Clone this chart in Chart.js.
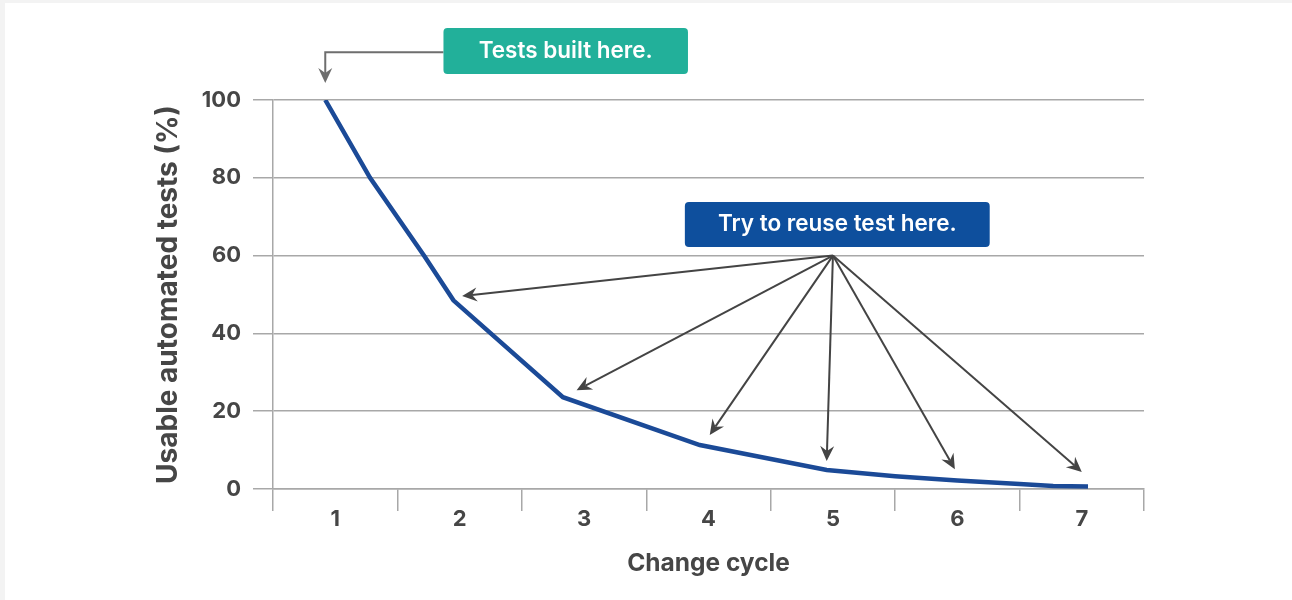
<!DOCTYPE html>
<html>
<head>
<meta charset="utf-8">
<script src="https://cdn.jsdelivr.net/npm/chart.js@4"></script>
<style>
    html, body { margin: 0; padding: 0; background: #f3f3f3; }
    #wrap { position: absolute; left: 5px; top: 3px; width: 1287px; height: 597px; background: #fff; }
</style>
</head>
<body>
<div id="wrap"><canvas id="chart"></canvas></div>
<script>
// dados
const cycleLabels = ['1', '2', '3', '4', '5', '6', '7'];
const yTicks = [0, 20, 40, 60, 80, 100];
const cycleX = [0.92, 1.28, 1.72, 1.95, 2.83, 3.93, 4.95, 5.5, 6.0, 6.5, 6.77, 7.05];
const usablePct = [100, 80, 59.7, 48.5, 23.6, 11.3, 4.9, 3.3, 2.2, 1.3, 0.8, 0.65];

// anotações (em unidades dos eixos)
const builtText = 'Tests built here.';
const builtTip = [0.92, 104.4];
const builtElbowY = 112.3;
const builtBox = [1.87, 3.835, 118.5, 106.7];   // x0, x1, yTop, yBottom
const reuseText = 'Try to reuse test here.';
const reuseFrom = [5.0, 60];
const reuseToX = [2.02, 2.94, 4.01, 4.95, 5.98, 7.0];
const reuseToY = [49.6, 25.4, 13.9, 7.2, 5.1, 4.4];
const reuseBox = [3.81, 6.26, 73.8, 62.2];

const gridGray = '#a8a8a8';
const textGray = '#464646';
const fontFam = 'Inter, Roboto, sans-serif';

// limites das categorias (0.5, 1.5, ...)
const boundaries = [];
for (let i = 0; i <= cycleLabels.length; i++) boundaries.push(i + 0.5);

function arrowHead(ctx, x0, y0, x1, y1) {
    const a = Math.atan2(y1 - y0, x1 - x0);
    ctx.save();
    ctx.translate(x1, y1);
    ctx.rotate(a);
    ctx.beginPath();
    ctx.moveTo(0, 0);
    ctx.lineTo(-15, -7);
    ctx.lineTo(-10, 0);
    ctx.lineTo(-15, 7);
    ctx.closePath();
    ctx.fill();
    ctx.restore();
}

function arrow(ctx, x0, y0, x1, y1) {
    const a = Math.atan2(y1 - y0, x1 - x0);
    ctx.beginPath();
    ctx.moveTo(x0, y0);
    ctx.lineTo(x1 - Math.cos(a) * 10, y1 - Math.sin(a) * 10);
    ctx.stroke();
    arrowHead(ctx, x0, y0, x1, y1);
}

function label(ctx, box, text, fill, x, y) {
    const left = x(box[0]), right = x(box[1]), top = y(box[2]), bottom = y(box[3]);
    ctx.fillStyle = fill;
    ctx.beginPath();
    ctx.roundRect(left, top, right - left, bottom - top, 4);
    ctx.fill();
    ctx.fillStyle = '#ffffff';
    ctx.font = '600 22.5px ' + fontFam;
    ctx.textAlign = 'center';
    ctx.textBaseline = 'middle';
    ctx.fillText(text, (left + right) / 2, (top + bottom) / 2);
}

const annotate = {
    id: 'annotate',
    afterDraw(chart) {
        const ctx = chart.ctx;
        const px = v => chart.scales.x.getPixelForValue(v);
        const py = v => chart.scales.y.getPixelForValue(v);
        ctx.save();

        // seta "Tests built here."
        ctx.strokeStyle = '#6e6e6e';
        ctx.fillStyle = '#6e6e6e';
        ctx.lineWidth = 2;
        ctx.beginPath();
        ctx.moveTo(px(builtBox[0]), py(builtElbowY));
        ctx.lineTo(px(builtTip[0]), py(builtElbowY));
        ctx.lineTo(px(builtTip[0]), py(builtTip[1]) - 10);
        ctx.stroke();
        arrowHead(ctx, px(builtTip[0]), py(builtElbowY), px(builtTip[0]), py(builtTip[1]));

        // setas "Try to reuse"
        ctx.strokeStyle = '#444444';
        ctx.fillStyle = '#444444';
        ctx.lineWidth = 2;
        for (let i = 0; i < reuseToX.length; i++) {
            arrow(ctx, px(reuseFrom[0]), py(reuseFrom[1]), px(reuseToX[i]), py(reuseToY[i]));
        }

        label(ctx, builtBox, builtText, '#22b09a', px, py);
        label(ctx, reuseBox, reuseText, '#0e4f9d', px, py);
        ctx.restore();
    }
};

new Chart(document.getElementById('chart'), {
    type: 'line',
    data: {
        datasets: [{
            data: cycleX.map((v, i) => ({ x: v, y: usablePct[i] })),
            borderColor: '#1b4a97',
            borderWidth: 4.5,
            pointRadius: 0,
            tension: 0,
            fill: false
        }]
    },
    options: {
        responsive: true,
        maintainAspectRatio: false,
        animation: false,
        layout: { padding: { left: 147, right: 148, top: 97, bottom: 22 } },
        plugins: { legend: { display: false }, tooltip: { enabled: false } },
        scales: {
            x: {
                type: 'linear',
                min: 0.5,
                max: 7.5,
                afterBuildTicks: s => {
                    const vals = boundaries.concat(cycleLabels.map((l, i) => i + 1)).sort((a, b) => a - b);
                    s.ticks = vals.map(v => ({ value: v }));
                },
                afterFit: s => { s.height = 89; },
                ticks: {
                    autoSkip: false,
                    maxRotation: 0,
                    padding: -3,
                    color: textGray,
                    font: { family: fontFam, size: 22, weight: 'bold', lineHeight: 1 },
                    callback: v => Number.isInteger(v) ? cycleLabels[v - 1] : ''
                },
                grid: {
                    drawOnChartArea: false,
                    tickLength: 22,
                    lineWidth: 1.5,
                    color: c => (c.tick && Number.isInteger(c.tick.value)) ? 'rgba(0,0,0,0)' : gridGray
                },
                border: { display: true, color: gridGray, width: 1.5 },
                title: {
                    display: true,
                    text: 'Change cycle',
                    color: textGray,
                    padding: { top: 0, bottom: 0 },
                    font: { family: fontFam, size: 24.5, weight: 'bold' }
                }
            },
            y: {
                min: yTicks[0],
                max: yTicks[yTicks.length - 1],
                afterFit: s => { s.width = 121; },
                ticks: {
                    stepSize: 20,
                    padding: 12,
                    color: textGray,
                    font: { family: fontFam, size: 22, weight: 'bold' }
                },
                grid: { color: gridGray, lineWidth: 1.5, tickLength: 20 },
                border: { display: true, color: gridGray, width: 1.5 },
                title: {
                    display: true,
                    text: 'Usable automated tests (%)',
                    color: textGray,
                    padding: { top: 0, bottom: 0 },
                    font: { family: fontFam, size: 28, weight: 'bold' }
                }
            }
        }
    },
    plugins: [annotate]
});
</script>
</body>
</html>
